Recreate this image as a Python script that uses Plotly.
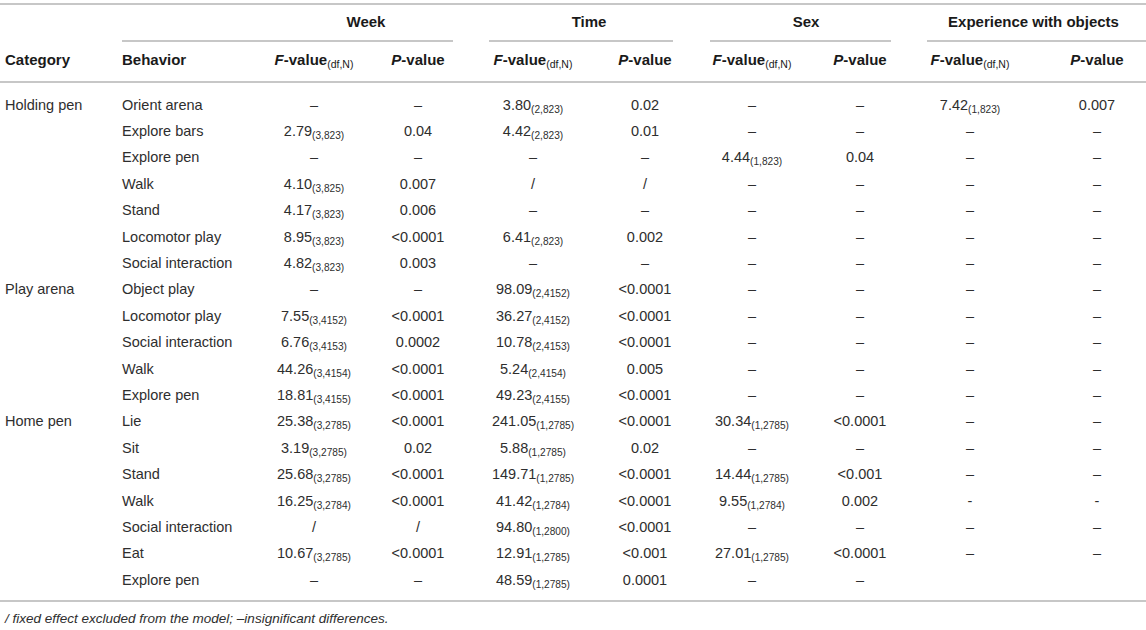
import plotly.graph_objects as go

# table content
categories = ["Holding pen", "Play arena", "Home pen"]
category_rows = [0, 7, 12]

behaviors = ["Orient arena", "Explore bars", "Explore pen", "Walk", "Stand",
             "Locomotor play", "Social interaction",
             "Object play", "Locomotor play", "Social interaction", "Walk", "Explore pen",
             "Lie", "Sit", "Stand", "Walk", "Social interaction", "Eat", "Explore pen"]

groups = ["Week", "Time", "Sex", "Experience with objects"]

week_f = ["–", "2.79", "–", "4.10", "4.17", "8.95", "4.82", "–", "7.55", "6.76", "44.26",
          "18.81", "25.38", "3.19", "25.68", "16.25", "/", "10.67", "–"]
week_df = ["", "(3,823)", "", "(3,825)", "(3,823)", "(3,823)", "(3,823)", "", "(3,4152)",
           "(3,4153)", "(3,4154)", "(3,4155)", "(3,2785)", "(3,2785)", "(3,2785)",
           "(3,2784)", "", "(3,2785)", ""]
week_p = ["–", "0.04", "–", "0.007", "0.006", "<0.0001", "0.003", "–", "<0.0001", "0.0002",
          "<0.0001", "<0.0001", "<0.0001", "0.02", "<0.0001", "<0.0001", "/", "<0.0001", "–"]

time_f = ["3.80", "4.42", "–", "/", "–", "6.41", "–", "98.09", "36.27", "10.78", "5.24",
          "49.23", "241.05", "5.88", "149.71", "41.42", "94.80", "12.91", "48.59"]
time_df = ["(2,823)", "(2,823)", "", "", "", "(2,823)", "", "(2,4152)", "(2,4152)",
           "(2,4153)", "(2,4154)", "(2,4155)", "(1,2785)", "(1,2785)", "(1,2785)",
           "(1,2784)", "(1,2800)", "(1,2785)", "(1,2785)"]
time_p = ["0.02", "0.01", "–", "/", "–", "0.002", "–", "<0.0001", "<0.0001", "<0.0001",
          "0.005", "<0.0001", "<0.0001", "0.02", "<0.0001", "<0.0001", "<0.0001", "<0.001",
          "0.0001"]

sex_f = ["–", "–", "4.44", "–", "–", "–", "–", "–", "–", "–", "–", "–", "30.34", "–",
         "14.44", "9.55", "–", "27.01", "–"]
sex_df = ["", "", "(1,823)", "", "", "", "", "", "", "", "", "", "(1,2785)", "",
          "(1,2785)", "(1,2784)", "", "(1,2785)", ""]
sex_p = ["–", "–", "0.04", "–", "–", "–", "–", "–", "–", "–", "–", "–", "<0.0001", "–",
         "<0.001", "0.002", "–", "<0.0001", "–"]

exp_f = ["7.42", "–", "–", "–", "–", "–", "–", "–", "–", "–", "–", "–", "–", "–", "–",
         "-", "–", "–", ""]
exp_df = ["(1,823)"] + [""] * 18
exp_p = ["0.007", "–", "–", "–", "–", "–", "–", "–", "–", "–", "–", "–", "–", "–", "–",
         "-", "–", "–", ""]

footnote = "/ fixed effect excluded from the model; –insignificant differences."

# layout in page pixels (axes cover the whole figure)
W, H = 1146, 630
row0, row_h = 106, 26.4
x_cat, x_beh = 5, 122
f_cols = [314, 533, 752, 970]
p_cols = [418, 645, 860, 1097]
group_lines = [(122, 453), (489, 673), (710, 891), (927, 1146)]
FONT = "Liberation Sans, Arial, Helvetica, sans-serif"
body = dict(family=FONT, size=14.5, color="#2e2e2e")
head = dict(family=FONT, size=15, color="#1a1a1a")

rows_y = [row0 + i * row_h for i in range(len(behaviors))]


def with_sub(vals, subs):
    return [v + ("<sub>" + s + "</sub>" if s else "") for v, s in zip(vals, subs)]


fig = go.Figure()


def add_col(x, y, text, font, pos="middle center"):
    fig.add_trace(go.Scatter(x=[x] * len(y), y=y, text=text, mode="text",
                             textposition=pos, textfont=font, hoverinfo="skip",
                             showlegend=False, cliponaxis=False))


add_col(x_cat, [rows_y[r] for r in category_rows], categories, body, "middle right")
add_col(x_beh, rows_y, behaviors, body, "middle right")

f_data = [with_sub(week_f, week_df), with_sub(time_f, time_df),
          with_sub(sex_f, sex_df), with_sub(exp_f, exp_df)]
p_data = [week_p, time_p, sex_p, exp_p]
for fx, px, ftxt, ptxt in zip(f_cols, p_cols, f_data, p_data):
    add_col(fx, rows_y, ftxt, body)
    add_col(px, rows_y, ptxt, body)

# header rows
hdr_y = 61
add_col(x_cat, [hdr_y], ["<b>Category</b>"], head, "middle right")
add_col(x_beh, [hdr_y], ["<b>Behavior</b>"], head, "middle right")
for fx, px in zip(f_cols, p_cols):
    add_col(fx, [hdr_y], ["<b><i>F</i>-value</b><sub>(df,N)</sub>"], head)
    add_col(px, [hdr_y], ["<b><i>P</i>-value</b>"], head)
for g, fx, px in zip(groups, f_cols, p_cols):
    add_col((fx + px) / 2, [23], ["<b>" + g + "</b>"], head)

add_col(x_cat, [620], ["<i>" + footnote + "</i>"],
        dict(family=FONT, size=13.5, color="#2e2e2e"), "middle right")

line = dict(color="#b4b4b4", width=1.5)
for y in [4, 82, 601]:
    fig.add_shape(type="line", x0=0, x1=W, y0=y, y1=y, line=line)
for x0, x1 in group_lines:
    fig.add_shape(type="line", x0=x0, x1=x1, y0=41, y1=41, line=line)

fig.update_layout(
    width=W, height=H,
    margin=dict(l=0, r=0, t=0, b=0),
    paper_bgcolor="white", plot_bgcolor="white",
    xaxis=dict(range=[0, W], visible=False, fixedrange=True),
    yaxis=dict(range=[H, 0], visible=False, fixedrange=True),
)

# drop the default page margin so the figure sits at the window's corner
fig.write_html("out.html", config={"displayModeBar": False},
               post_script="document.body.style.margin='0';")
